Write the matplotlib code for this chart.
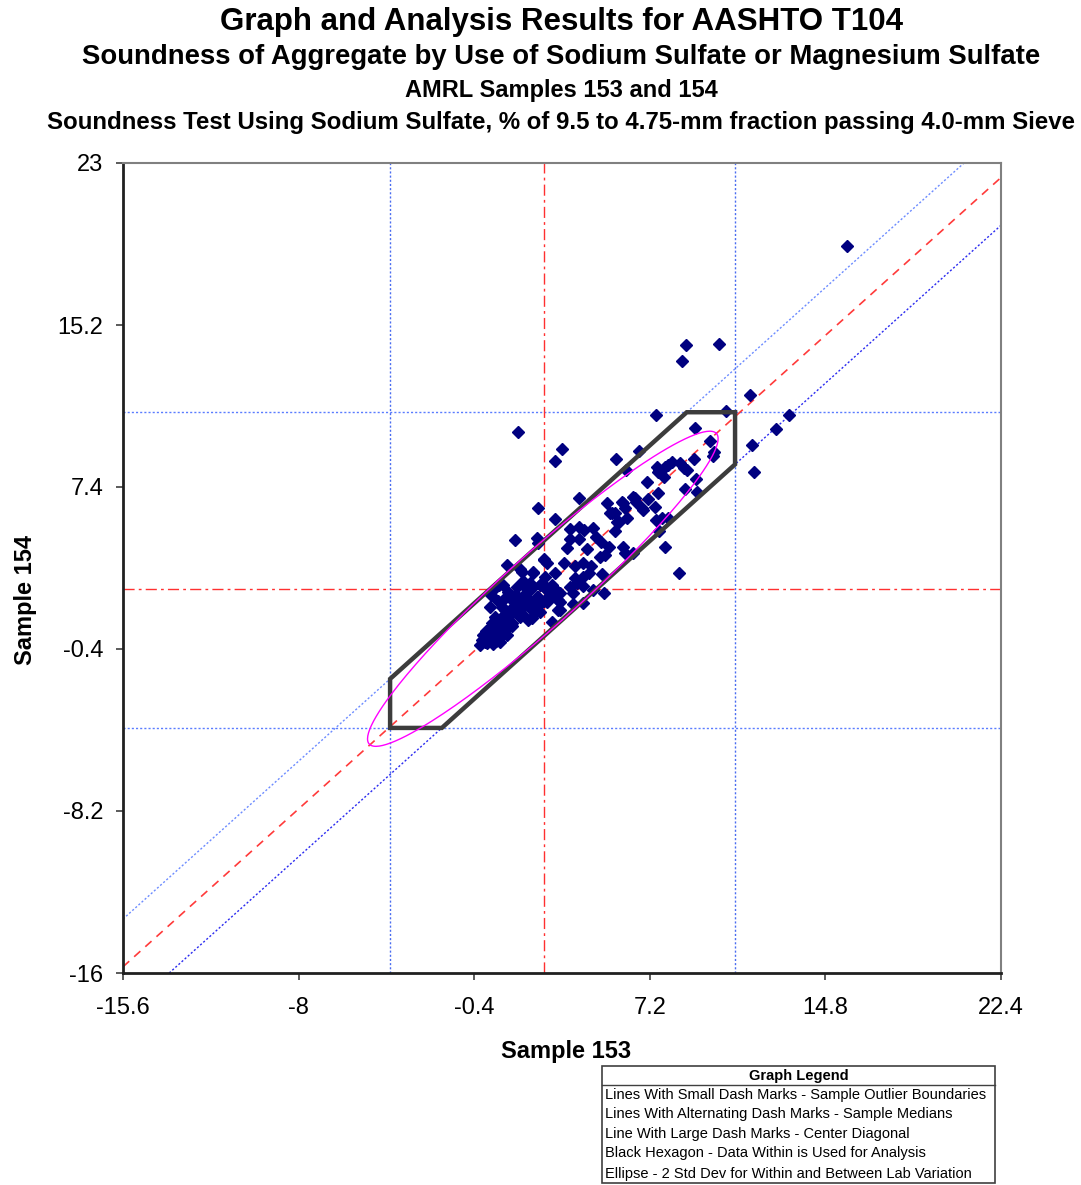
import matplotlib
matplotlib.use("Agg")
import matplotlib.pyplot as plt
from matplotlib.patches import Polygon, Rectangle
from matplotlib.lines import Line2D
import numpy as np

plt.rcParams['font.family'] = ['Liberation Sans', 'DejaVu Sans']

# ---------------- data ----------------
title_lines = [
    "Graph and Analysis Results for AASHTO T104",
    "Soundness of Aggregate by Use of Sodium Sulfate or Magnesium Sulfate",
    "AMRL Samples 153 and 154",
    "Soundness Test Using Sodium Sulfate, % of 9.5 to 4.75-mm fraction passing 4.0-mm Sieve",
]
x_label = "Sample 153"
y_label = "Sample 154"
x_ticks = [-15.6, -8, -0.4, 7.2, 14.8, 22.4]
y_ticks = [-16, -8.2, -0.4, 7.4, 15.2, 23]
x_tick_labels = ["-15.6", "-8", "-0.4", "7.2", "14.8", "22.4"]
y_tick_labels = ["-16", "-8.2", "-0.4", "7.4", "15.2", "23"]

median_153 = 2.6
median_154 = 2.5
outlier_153 = [-4.04, 10.89]
outlier_154 = [-4.2, 11.0]
diag_band = 2.3
ellipse_center = [2.57, 2.5]
ellipse_semi_axes = [10.6, 1.66]   # along / across the diagonal (data units)
ellipse_angle_deg = 45

sample_153 = [
    15.73, 8.78, 10.2, 8.6, 11.54, 7.46, 10.5, 13.22, 12.65, 11.64, 11.69, 9.15, 9.79, 10.0,
    9.93, 9.12, 1.48, 3.42, 3.11, 5.73, 6.74, 6.18, 7.5, 7.84, 8.17, 8.5, 8.7, 7.8, 7.61,
    7.97, 7.54, 7.07, 9.18, 8.73, 9.24, 7.57, 8.8, 5.34, 4.15, 2.38, 3.11, 5.57, 6.04, 6.12,
    6.56, 6.85, 7.44, 7.12, 6.2, 5.77, 4.15, 4.37, 4.73, 3.76, 3.76, 4.15, 4.88, 5.1, 5.71,
    5.45, 6.05, 5.28, 5.06, 4.47, 3.6, 6.13, 6.49, 7.84, 7.6, 7.72, 8.46, 1.37, 2.3, 2.38,
    1.04, 1.6, 2.16, 2.62, 2.74, 3.1, 3.49, 3.97, 4.33, 4.66, 4.59, 4.33, 3.97, 4.04, 3.76,
    5.14, 5.21, 4.75, 4.33, 3.32, 3.89, 3.24, 3.32, 3.89, 4.33, 2.74, 2.45, 2.02, 2.96, 0.69,
    6.0, 6.49, 6.61, 6.9, 7.97, 5.86, 5.71, 5.49, 7.47,
    0.32, 0.86, 0.79, 1.37, 1.59, 1.87, 2.09, 1.72, 1.29, 1.15, 1.44, 1.0, 0.79, 0.57, 0.42,
    0.2, 0.0, 0.07, -0.15, 0.36, 0.57, 0.79, 0.72, 1.0, 0.29, 0.86, 1.22, 1.94, 1.72, 2.23,
    2.3, 2.74, 2.38, 2.74, 2.52, 2.96, 2.67, 3.32, 3.24, 1.72, 2.09, 1.44, 0.86, 0.5, 1.66,
    2.16, 2.6,
    0.1, 0.25, 0.45, 0.6, 0.9, 1.1, 1.3, 1.5, 1.7, 1.85, 2.0, 0.5, 0.35, 0.95, 1.2, 0.65,
    1.05, 1.45, -0.05, 0.15, 0.4, 0.55, 0.85, 1.25, 1.6, 2.1, 2.45, 2.6, 2.9, 3.05, 1.0,
    0.75, 0.3, 1.8, 2.3,
]
sample_154 = [
    19.02, 14.24, 14.3, 13.48, 11.84, 10.88, 11.06, 10.87, 10.19, 9.42, 8.11, 10.24, 9.62, 9.1,
    8.89, 8.74, 10.03, 9.21, 8.67, 8.76, 9.13, 8.22, 8.38, 8.38, 8.62, 8.57, 8.3, 7.9, 8.2,
    8.46, 8.14, 7.66, 7.79, 7.29, 7.18, 7.1, 8.22, 6.64, 6.85, 6.41, 5.87, 6.13, 6.61, 6.37,
    6.85, 6.37, 6.45, 6.8, 5.89, 5.73, 5.49, 5.33, 5.41, 5.36, 4.92, 4.92, 5.0, 4.76, 5.27,
    4.53, 4.53, 4.13, 4.05, 4.4, 4.48, 4.24, 4.21, 4.53, 5.29, 5.89, 3.28, 4.85, 4.93, 4.69,
    3.65, 3.44, 3.32, 3.93, 3.73, 3.25, 3.76, 3.6, 3.73, 3.6, 3.25, 3.08, 3.0, 2.76, 2.6,
    3.22, 2.28, 2.44, 2.64, 2.31, 2.28, 1.96, 1.48, 1.77, 1.8, 2.44, 2.68, 2.79, 0.92, 2.68,
    6.7, 6.94, 6.7, 6.29, 5.89, 5.73, 6.14, 6.14, 5.81,
    2.2, 1.96, 1.64, 2.2, 1.96, 2.12, 1.8, 1.64, 1.64, 1.32, 1.32, 1.0, 1.16, 1.0, 0.68,
    0.52, 0.28, -0.04, -0.2, 0.03, 0.19, 0.52, -0.04, 0.28, 0.28, 0.76, 0.84, 1.0, 1.24, 1.32,
    1.64, 1.88, 2.12, 2.44, 2.76, 2.68, 3.08, 1.88, 1.48, 2.85, 2.53, 2.6, 2.68, 2.53, 3.32,
    3.25, 3.9,
    0.45, 0.1, 0.35, 0.6, 0.95, 1.2, 1.45, 1.7, 1.9, 2.3, 1.55, 1.15, 0.85, 1.5, 2.0, 1.9,
    2.35, 2.15, 0.05, -0.1, -0.15, 0.0, 0.3, 0.7, 1.15, 1.1, 1.4, 1.9, 2.2, 2.55, 0.6,
    0.75, 1.6, 2.6, 2.1,
]

legend_title = "Graph Legend"
legend_rows = [
    "Lines With Small Dash Marks - Sample Outlier Boundaries",
    "Lines With Alternating Dash Marks - Sample Medians",
    "Line With Large Dash Marks - Center Diagonal",
    "Black Hexagon - Data Within is Used for Analysis",
    "Ellipse - 2 Std Dev for Within and Between Lab Variation",
]

# ---------------- figure ----------------
W, H = 1081, 1185
fig = plt.figure(figsize=(W / 100, H / 100), dpi=100)
fig.patch.set_facecolor("white")

ax = fig.add_axes([123 / W, 1 - 973 / H, (1001 - 123) / W, (973 - 163) / H])
ax.set_xlim(x_ticks[0], x_ticks[-1])
ax.set_ylim(y_ticks[0], y_ticks[-1])

ax.set_xticks(x_ticks)
ax.set_xticklabels(x_tick_labels, fontsize=17)
ax.set_yticks(y_ticks)
ax.set_yticklabels(y_tick_labels, fontsize=17)
ax.tick_params(axis="x", direction="out", length=5, width=1.2, color="#404040", pad=12)
ax.tick_params(axis="y", direction="out", length=5, width=1.2, color="#404040", pad=9)

for side in ["left", "bottom"]:
    ax.spines[side].set_color("#202020")
    ax.spines[side].set_linewidth(2.0)
for side in ["top", "right"]:
    ax.spines[side].set_color("#808080")
    ax.spines[side].set_linewidth(1.5)

ax.set_xlabel(x_label, fontsize=17, fontweight="bold")
ax.set_ylabel(y_label, fontsize=17, fontweight="bold")
ax.xaxis.set_label_coords((566 - 123) / 878, (973 - 1040) / 810)
ax.yaxis.set_label_coords((37 - 123) / 878, (973 - 600) / 810)

diag_c = median_154 - median_153

# outlier boundaries (small dashes)
dot = (1.5, 1.5)
for xv in outlier_153:
    ax.axvline(xv, color="#4a6cf0", lw=1.0, dashes=dot, zorder=2)
for yv in outlier_154:
    ax.axhline(yv, color="#5a7cff", lw=1.0, dashes=dot, zorder=2)
ax.axline((0, diag_c + diag_band), slope=1, color="#6d8cff", lw=1.0, dashes=dot, zorder=2)
ax.axline((0, diag_c - diag_band), slope=1, color="#2b2bf0", lw=1.0, dashes=dot, zorder=2)

# medians (dash-dot)
ax.axvline(median_153, color="#ff3030", lw=1.0, dashes=(8, 3, 2, 3), zorder=2)
ax.axhline(median_154, color="#ff3030", lw=1.0, dashes=(8, 3, 2, 3), zorder=2)

# center diagonal
ax.axline((0, diag_c), slope=1, color="#ff3a3a", lw=1.2, dashes=(5, 4), zorder=2)

# hexagon (intersection of outlier box and diagonal band)
xlo, xhi = outlier_153
ylo, yhi = outlier_154
hexv = [
    (xlo, xlo + diag_c + diag_band),
    (yhi - diag_c - diag_band, yhi),
    (xhi, yhi),
    (xhi, xhi + diag_c - diag_band),
    (ylo - diag_c + diag_band, ylo),
    (xlo, ylo),
]
ax.add_patch(Polygon(hexv, closed=True, fill=False, edgecolor="#3c3c3c", lw=3.2, zorder=4,
                     joinstyle="miter"))

# ellipse
t = np.linspace(0, 2 * np.pi, 241)
th = np.deg2rad(ellipse_angle_deg)
u = ellipse_semi_axes[0] * np.cos(t)
v = ellipse_semi_axes[1] * np.sin(t)
ex = ellipse_center[0] + u * np.cos(th) - v * np.sin(th)
ey = ellipse_center[1] + u * np.sin(th) + v * np.cos(th)
ax.plot(ex, ey, color="#ff00ff", lw=1.0, zorder=5)

# data
ax.plot(sample_153, sample_154, linestyle="none", marker="D", ms=6,
        color="#000080", mec="#000080", zorder=3)

# titles
title_y = [22, 57, 90, 122]
title_fs = [22.5, 19.8, 17.0, 17.3]
for tt, yy, fs in zip(title_lines, title_y, title_fs):
    fig.text(561 / W, 1 - yy / H, tt, ha="center", va="center", fontsize=fs, fontweight="bold")

# legend box
lx0, lx1, ly0, ly1 = 602 / W, 995 / W, 1 - 1183 / H, 1 - 1066 / H
fig.add_artist(Rectangle((lx0, ly0), lx1 - lx0, ly1 - ly0, transform=fig.transFigure,
                         fill=False, edgecolor="#404040", lw=1.2))
fig.add_artist(Line2D([lx0, lx1], [1 - 1085 / H] * 2, transform=fig.transFigure,
                      color="#404040", lw=1.0))
fig.text((lx0 + lx1) / 2, 1 - 1076 / H, legend_title, ha="center", va="center",
         fontsize=10.5, fontweight="bold")
row_y = [1095, 1114, 1134, 1153, 1174]
for tt, yy in zip(legend_rows, row_y):
    fig.text(605 / W, 1 - yy / H, tt, ha="left", va="center", fontsize=10.5)

fig.savefig("out.png", dpi=100)
